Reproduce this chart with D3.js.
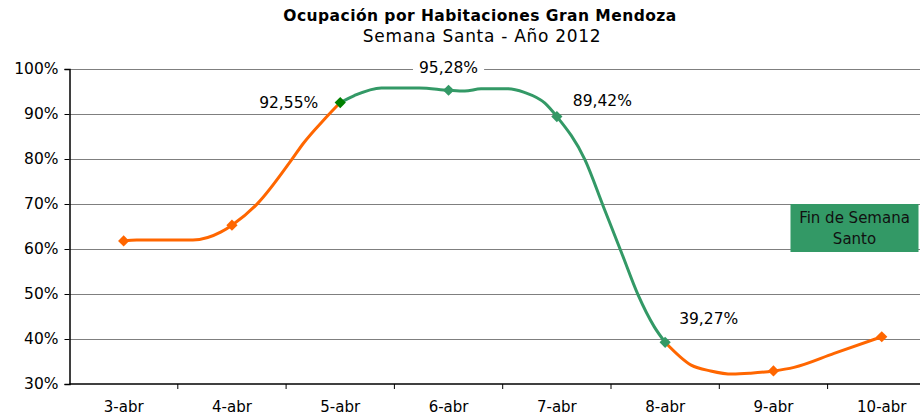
<!DOCTYPE html>
<html><head><meta charset="utf-8">
<script src="https://cdn.jsdelivr.net/npm/d3@7"></script>
<style>
html,body{margin:0;padding:0;background:#fff;}
svg{display:block;font-family:"DejaVu Sans",Verdana,sans-serif;}
</style></head>
<body><svg id="c" width="924" height="417"></svg>
<script>
// ---- data ----
const categories = ["3-abr","4-abr","5-abr","6-abr","7-abr","8-abr","9-abr","10-abr"];
const dailyValues = [61.8, 65.3, 92.55, 95.28, 89.42, 39.27, 32.9, 40.5];
const pointLabels = [null, null, "92,55%", "95,28%", "89,42%", "39,27%", null, null];
// intermediate readings along the curve (position in days from 3-abr, value %)
const tracePos = [0.12, 0.64, 0.90, 1.24, 1.55, 1.66, 1.86,
                  2.13, 2.38, 2.73, 3.15, 3.30, 3.55, 3.70, 3.89,
                  4.26, 4.43, 4.60, 4.75, 4.90,
                  5.24, 5.42, 5.62, 5.79, 6.19, 6.56];
const traceVal = [62.0, 62.0, 63.8, 70.2, 79.8, 83.5, 89.0,
                  94.1, 95.8, 95.8, 95.1, 95.6, 95.6, 94.8, 92.4,
                  79.8, 69.4, 59.0, 49.8, 42.7,
                  34.2, 32.9, 32.2, 32.4, 33.7, 36.8];
const yTicks = [30, 40, 50, 60, 70, 80, 90, 100];
const greenSpan = [2, 5]; // "Fin de Semana Santo" segment (5-abr .. 8-abr)
const boxText = ["Fin de Semana", "Santo"];
const title = "Ocupación por Habitaciones Gran Mendoza";
const subtitle = "Semana Santa - Año 2012";

// ---- layout ----
const svg = d3.select("#c");
const mLeft = 69.5, band = 108.3, mBottom = 384, mTop = 69, gridRight = 920;
const x = d3.scaleLinear().domain([-0.5, categories.length - 0.5]).range([mLeft, mLeft + band * categories.length]);
const xBand = d3.scaleBand().domain(categories).range([mLeft, mLeft + band * categories.length]);
const y = d3.scaleLinear().domain([30, 100]).range([mBottom, mTop]);

const ORANGE = "#FF6600", GREEN = "#339966", DARKGREEN = "#008000";

// title
svg.append("text").attr("x", 480).attr("y", 21).attr("text-anchor", "middle")
  .attr("font-weight", "bold").attr("font-size", 15.5).attr("letter-spacing", 0.45).attr("fill", "#000").text(title);
svg.append("text").attr("x", 482).attr("y", 42).attr("text-anchor", "middle")
  .attr("font-size", 17).attr("letter-spacing", 0.7).attr("fill", "#000").text(subtitle);

// gridlines
svg.append("g").selectAll("line").data(yTicks.filter(d => d > 30)).join("line")
  .attr("x1", mLeft).attr("x2", gridRight).attr("y1", d => y(d)).attr("y2", d => y(d))
  .attr("stroke", "#7f7f7f").attr("stroke-width", 1).attr("shape-rendering", "crispEdges");

// y axis
const yAxis = d3.axisLeft(y).tickValues(yTicks).tickSize(5).tickPadding(6).tickFormat(d => d + "%");
const gy = svg.append("g").attr("transform", `translate(${mLeft},0)`).call(yAxis);
gy.select(".domain").attr("stroke", "#000").attr("stroke-width", 1.5);
gy.selectAll(".tick line").attr("stroke", "#000");
gy.selectAll("text").attr("font-size", 15.5).attr("font-family", "DejaVu Sans, Verdana, sans-serif").attr("fill", "#000");

// x axis
const xAxis = d3.axisBottom(xBand).tickSize(0).tickPadding(17);
const gx = svg.append("g").attr("transform", `translate(0,${mBottom})`).call(xAxis);
gx.select(".domain").remove();
gx.append("line").attr("x1", mLeft).attr("x2", gridRight).attr("stroke", "#000").attr("stroke-width", 1.5);
gx.selectAll(".tick text").attr("font-size", 15).attr("font-family", "DejaVu Sans, Verdana, sans-serif").attr("fill", "#000");
// tick marks between categories
svg.append("g").selectAll("line").data(d3.range(1, categories.length)).join("line")
  .attr("x1", d => x(d - 0.5)).attr("x2", d => x(d - 0.5))
  .attr("y1", mBottom).attr("y2", mBottom + 5).attr("stroke", "#000");

// build trace
const pts = dailyValues.map((v, i) => ({p: i, v}))
  .concat(tracePos.map((p, i) => ({p, v: traceVal[i]})))
  .sort((a, b) => a.p - b.p);
const line = d3.line().x(d => x(d.p)).y(d => y(d.v)).curve(d3.curveMonotoneX);
const seg1 = pts.filter(d => d.p <= greenSpan[0]);
const seg2 = pts.filter(d => d.p >= greenSpan[0] && d.p <= greenSpan[1]);
const seg3 = pts.filter(d => d.p >= greenSpan[1]);
[[seg1, ORANGE], [seg3, ORANGE], [seg2, GREEN]].forEach(([s, c]) => {
  svg.append("path").datum(s).attr("d", line).attr("fill", "none")
    .attr("stroke", c).attr("stroke-width", 3).attr("stroke-linejoin", "round").attr("stroke-linecap", "round");
});

// markers
const markerColor = i => i === greenSpan[0] ? DARKGREEN : (i > greenSpan[0] && i <= greenSpan[1] ? GREEN : ORANGE);
svg.append("g").selectAll("path").data(dailyValues).join("path")
  .attr("transform", (d, i) => `translate(${x(i)},${y(d)})`)
  .attr("d", d3.symbol(d3.symbolDiamond2, 80)())
  .attr("fill", (d, i) => markerColor(i));

// point labels
const labelPos = {2: {dx: -22, dy: 5, anchor: "end"}, 3: {dx: 0, dy: -17, anchor: "middle"},
                  4: {dx: 16, dy: -11, anchor: "start"}, 5: {dx: 14, dy: -18, anchor: "start"}};
dailyValues.forEach((v, i) => {
  if (!pointLabels[i]) return;
  const lp = labelPos[i];
  const g = svg.append("g");
  const t = g.append("text").attr("x", x(i) + lp.dx).attr("y", y(v) + lp.dy)
    .attr("text-anchor", lp.anchor).attr("font-size", 15.5).attr("fill", "#000").text(pointLabels[i]);
  const bb = t.node().getBBox();
  g.insert("rect", "text").attr("x", bb.x - 6).attr("y", bb.y).attr("width", bb.width + 12).attr("height", bb.height).attr("fill", "#fff");
});

// box
const bx = 790.5, by = 204, bw = 128, bh = 48;
svg.append("rect").attr("x", bx).attr("y", by).attr("width", bw).attr("height", bh).attr("fill", GREEN);
boxText.forEach((t, i) => {
  svg.append("text").attr("x", bx + bw / 2).attr("y", by + 19 + i * 21).attr("text-anchor", "middle")
    .attr("font-size", 15).attr("fill", "#111").text(t);
});
</script></body></html>
